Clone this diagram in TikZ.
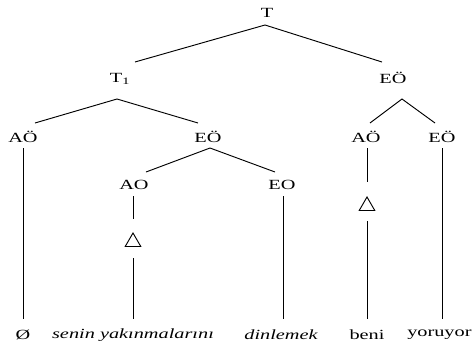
\documentclass[tikz,border=0pt]{standalone}
\usepackage{fontspec}
\setmainfont{Liberation Serif}[FakeStretch=1.45]
\usetikzlibrary{shapes.geometric}

\begin{document}
\begin{tikzpicture}[x=0.75pt,y=-0.75pt,
		lbl/.style={inner sep=0pt,font=\fontsize{10.5}{12}\selectfont},
		leaf/.style={inner sep=0pt,font=\fontsize{10.5}{12}\selectfont\itshape},
		tri/.style={draw,regular polygon,regular polygon sides=3,minimum size=13.5pt,inner sep=0pt,line width=0.7pt},
		branch/.style={line width=0.7pt}]
		\useasboundingbox (0,0) rectangle (472,343);
		% category labels
		\node[lbl] (T) at (267,13) {T};
		\node[lbl] (T1) at (120,79) {T\textsubscript{1}};
		\node[lbl] (EOr) at (393,78) {EÖ};
		\node[lbl] (AOl) at (23,137) {AÖ};
		\node[lbl] (EOm) at (208,137) {EÖ};
		\node[lbl] (AOr) at (366,137) {AÖ};
		\node[lbl] (EOrr) at (442,137) {EÖ};
		\node[lbl] (AO) at (134,185) {AO};
		\node[lbl] (EO) at (282,185) {EO};
		\node[tri] (triAO) at (133,242) {};
		\node[tri] (triAOr) at (367,206) {};
		% words
		\node[lbl] (zero) at (23,335) {Ø};
		\node[leaf] (senin) at (133,335) {senin yakınmalarını};
		\node[leaf] (dinle) at (281,335) {dinlemek};
		\node[lbl] (beni) at (367,335) {beni};
		\node[lbl,anchor=west] (yor) at (407,335) {yoruyor};
		\coordinate (yorTop) at (442,319);
		% branches
		\draw[branch] ([shift={(15,-17)}]T1.center) -- ([shift={(-2,12)}]T.center) -- ([shift={(-11,-16)}]EOr.center);
		\draw[branch] ([shift={(12,-14)}]AOl.center) -- ([shift={(-3,20)}]T1.center) -- ([shift={(-10,-14)}]EOm.center);
		\draw[branch] ([shift={(4,-14)}]AOr.center) -- ([shift={(9,21)}]EOr.center) -- ([shift={(-7,-14)}]EOrr.center);
		\draw[branch] ([shift={(12,-13)}]AO.center) -- ([shift={(2,11)}]EOm.center) -- ([shift={(-7,-13)}]EO.center);
		\draw[branch] ([shift={(0,11)}]AOl.center) -- ([shift={(0,-16)}]zero.center);
		\draw[branch] ([shift={(-1,11)}]AO.center) -- ([shift={(0,-13)}]triAO.north);
		\draw[branch] ([shift={(0,11.5)}]triAO.south) -- ([shift={(0,-16)}]senin.center);
		\draw[branch] ([shift={(1,11)}]EO.center) -- ([shift={(2,-16)}]dinle.center);
		\draw[branch] ([shift={(1,11)}]AOr.center) -- ([shift={(0,-14)}]triAOr.north);
		\draw[branch] ([shift={(0,10.5)}]triAOr.south) -- ([shift={(0,-16)}]beni.center);
		\draw[branch] ([shift={(0,11)}]EOrr.center) -- (yorTop);
	\end{tikzpicture}
\end{document}
